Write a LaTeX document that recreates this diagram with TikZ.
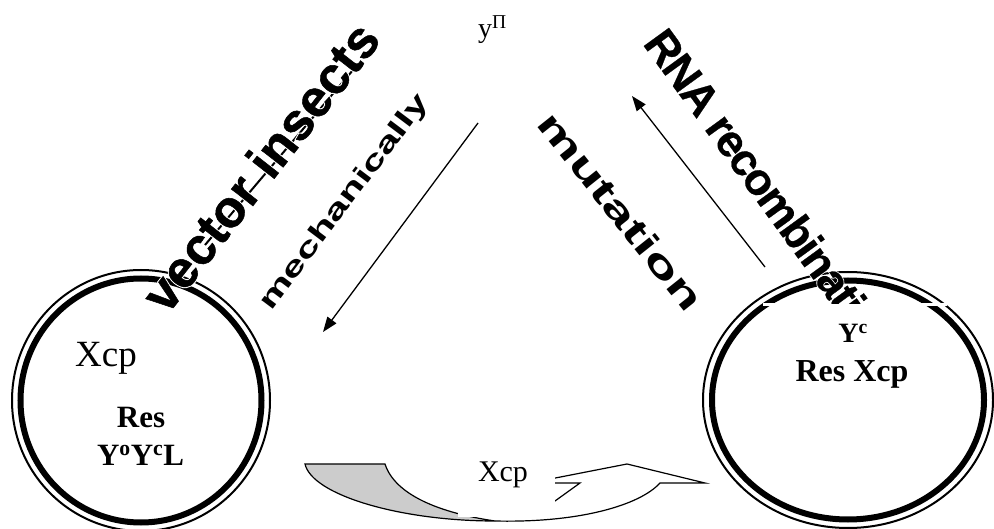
\documentclass[tikz,border=0pt]{standalone}
\usepackage{fontspec}
\setmainfont{Liberation Serif}
\newfontfamily\arial[FakeBold=1]{Liberation Sans Bold}
\newfontfamily\arialhalo[FakeBold=5]{Liberation Sans Bold}
\newfontfamily\arialc[FakeBold=0.5,LetterSpace=-4]{Liberation Sans Bold}
\newfontfamily\arialchalo[FakeBold=4,LetterSpace=-4]{Liberation Sans Bold}
\newfontfamily\wideA[FakeStretch=1.55]{Liberation Sans}
\newfontfamily\wideB[FakeStretch=1.6]{Liberation Sans}
\usetikzlibrary{arrows.meta}
\tikzset{
  outerring/.style={line width=2pt},
  innerring/.style={line width=6pt},
  arr/.style={line width=1.3pt,-{Triangle[length=15pt,width=11pt]}},
  lbl/.style={inner sep=0pt},
  halo/.style={inner sep=0pt, text=white},
}
\begin{document}
\begin{tikzpicture}[x=1pt,y=-1pt]
\useasboundingbox (0,0) rectangle (994,529);
% left ring
\draw[outerring] (141,400.5) ellipse [x radius=129pt, y radius=130.5pt];
\draw[innerring] (141,400.5) ellipse [x radius=120.5pt, y radius=122pt];
% right ring
\draw[outerring] (848,400) ellipse [x radius=145pt, y radius=128pt];
\draw[innerring] (848,400) ellipse [x radius=136pt, y radius=119.5pt];
\fill[white] (763,303.3) rectangle (947,305.7);
% rotated labels
\draw[line width=2pt] (205,245) -- (353,70);
\node[halo, rotate=52, anchor=base west] (vih) at (167,316) {\arialhalo\fontsize{52}{52}\selectfont vector insects};
\node[lbl, rotate=52, anchor=base west] (vi) at (167,316) {\arial\fontsize{52}{52}\selectfont vector insects};
\node[lbl, rotate=53, anchor=base west] (mech) at (271,312) {\wideA\bfseries\fontsize{27}{27}\selectfont mechanically};
\node[lbl, rotate=-51.5, anchor=base west] (mut) at (535,124) {\wideB\bfseries\fontsize{36}{36}\selectfont mutation};
\begin{scope}
\clip (600,0) rectangle (994,304);
\node[halo, rotate=-54, anchor=base west] (rnah) at (642,43.5) {\arialchalo\fontsize{45}{45}\selectfont RNA recombination};
\node[lbl, rotate=-54, anchor=base west] (rna) at (642,43.5) {\arialc\fontsize{45}{45}\selectfont RNA recombination};
\end{scope}
% top label
\node[lbl, anchor=base west] (top) at (478,38) {\fontsize{28}{28}\selectfont у\textsuperscript{П}};
% arrows
\coordinate (a1s) at (478,123);
\coordinate (a1e) at (323,332);
\coordinate (a2s) at (765,267);
\coordinate (a2e) at (632,96);
\draw[arr] (a1s) -- (a1e);
\draw[arr] (a2s) -- (a2e);
% circle texts
\node[lbl, anchor=base west] (lx) at (75,367) {\fontsize{37}{37}\selectfont Xcp};
\node[lbl, anchor=base] (lres) at (141,428) {\bfseries\fontsize{31}{31}\selectfont Res};
\node[lbl, anchor=base] (lyy) at (140.5,465) {\bfseries\fontsize{31}{31}\selectfont Y\textsuperscript{o}Y\textsuperscript{c}L};
\node[lbl, anchor=base] (ryc) at (853,343) {\bfseries\fontsize{28}{28}\selectfont Y\textsuperscript{c}};
\node[lbl, anchor=base] (rres) at (852,381.5) {\bfseries\fontsize{32}{32}\selectfont Res Xcp};
% bottom curved arrow
\draw[line width=1.2pt, fill=black!20] (305,464) -- (385,464)
  .. controls (395,495) and (440,513) .. (495,521)
  .. controls (400,521) and (312,495) .. (305,464) -- cycle;
\draw[line width=1.2pt] (495,521) .. controls (580,523) and (640,505) .. (660,483)
  -- (705,483) -- (627,464) -- (540,481);
\draw[line width=1.2pt] (540,483) -- (580,483) -- (555,501) -- (520,515);
\fill[white] (458,448) rectangle (555,517);
\node[lbl, anchor=base] (bx) at (503,481) {\fontsize{30}{30}\selectfont Xcp};
\end{tikzpicture}
\end{document}
